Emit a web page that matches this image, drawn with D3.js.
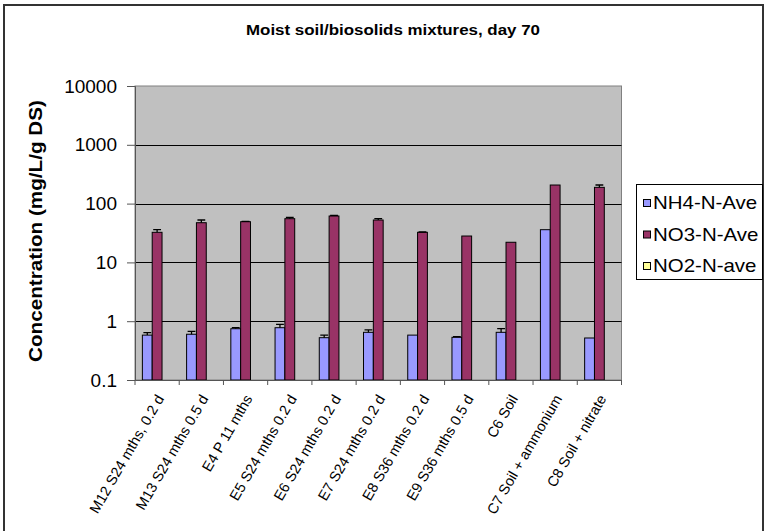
<!DOCTYPE html>
<html>
<head>
<meta charset="utf-8">
<script src="https://cdn.jsdelivr.net/npm/d3@7"></script>
<style>
  html, body { margin: 0; padding: 0; background: #fff; }
  svg { display: block; font-family: Arial, "Liberation Sans", sans-serif; }
</style>
</head>
<body>
<svg id="chart" width="768" height="531"></svg>
<script>
// Sample categories along the x axis
const categories = [
  "M12 S24 mths, 0.2 d",
  "M13 S24 mths 0.5 d",
  "E4 P 11 mths",
  "E5 S24 mths 0.2 d",
  "E6 S24 mths 0.2 d",
  "E7 S24 mths 0.2 d",
  "E8 S36 mths 0.2 d",
  "E9 S36 mths 0.5 d",
  "C6 Soil",
  "C7 Soil + ammonium",
  "C8 Soil + nitrate"
];

// Series names (legend order)
const seriesNames = ["NH4-N-Ave", "NO3-N-Ave", "NO2-N-ave"];

// Mean concentrations (mg/L/g DS)
const nh4 = [0.58, 0.60, 0.745, 0.775, 0.524, 0.647, 0.58, 0.532, 0.647, 36, 0.518];
const no3 = [32.5, 47.3, 49.2, 55.4, 61.5, 52.6, 32.5, 28.1, 22.0, 207, 189];
const no2 = [null, null, null, null, null, null, null, null, null, null, null];

// Upper error amounts
const nh4Err = [0.06, 0.07, 0.03, 0.11, 0.056, 0.063, 0, 0.014, 0.098, 0, 0];
const no3Err = [3.5, 5.3, 0.8, 3.1, 1.5, 2.8, 0.4, 0, 0, 0, 18];
const no2Err = [0, 0, 0, 0, 0, 0, 0, 0, 0, 0, 0];

// Log-axis ticks
const yTicks = [0.1, 1, 10, 100, 1000, 10000];
const yTickLabels = ["0.1", "1", "10", "100", "1000", "10000"];

const seriesValues = [nh4, no3, no2];
const seriesErrors = [nh4Err, no3Err, no2Err];
const colors = ["#9999FF", "#993366", "#FFFF99"];

const svg = d3.select("#chart");

// Outer chart frame
svg.append("rect")
  .attr("x", 4).attr("y", 5).attr("width", 759).attr("height", 600)
  .attr("fill", "#fff").attr("stroke", "#333").attr("stroke-width", 2);

const plot = { left: 135, right: 621.5, top: 86, bottom: 380 };

const x = d3.scaleBand().domain(categories).range([plot.left, plot.right]).paddingInner(0).paddingOuter(0);
const xs = d3.scaleBand().domain(seriesNames).range([0, x.bandwidth()]).paddingInner(0).paddingOuter(0.75);
const y = d3.scaleLog().domain([0.1, 10000]).range([plot.bottom, plot.top]);

// Plot area background
svg.append("rect")
  .attr("x", plot.left).attr("y", plot.top)
  .attr("width", plot.right - plot.left).attr("height", plot.bottom - plot.top)
  .attr("fill", "#C0C0C0").attr("stroke", "#808080").attr("stroke-width", 1);

// Gridlines
svg.append("g").selectAll("line")
  .data(yTicks.slice(1, -1))
  .join("line")
  .attr("x1", plot.left).attr("x2", plot.right)
  .attr("y1", d => Math.round(y(d)) + 0.5).attr("y2", d => Math.round(y(d)) + 0.5)
  .attr("stroke", "#000").attr("stroke-width", 1);

// Bars
const groups = svg.append("g").selectAll("g")
  .data(seriesNames.map((name, i) => ({ name, i })))
  .join("g");

groups.each(function (s) {
  const g = d3.select(this);
  const vals = seriesValues[s.i].map((v, k) => ({ v, e: seriesErrors[s.i][k], cat: categories[k] }))
    .filter(d => d.v != null && d.v > 0.1);
  g.selectAll("rect")
    .data(vals)
    .join("rect")
    .attr("x", d => x(d.cat) + xs(s.name))
    .attr("y", d => y(d.v))
    .attr("width", xs.bandwidth())
    .attr("height", d => y(0.1) - y(d.v))
    .attr("fill", colors[s.i])
    .attr("stroke", "#000").attr("stroke-width", 1);

  // Upper error bars
  const errs = vals.filter(d => d.e > 0);
  g.selectAll("path.err")
    .data(errs)
    .join("path")
    .attr("class", "err")
    .attr("d", d => {
      const cx = x(d.cat) + xs(s.name) + xs.bandwidth() / 2;
      const hw = xs.bandwidth() / 2 - 1;
      const yt = y(d.v + d.e), yb = y(d.v);
      return `M${cx},${yb}V${yt}M${cx - hw},${yt}H${cx + hw}`;
    })
    .attr("stroke", "#000").attr("stroke-width", 1.3).attr("fill", "none");
});

// Y axis
const yAxis = d3.axisLeft(y).tickValues(yTicks)
  .tickFormat((d, i) => yTickLabels[i]).tickSize(8).tickPadding(10);
const yg = svg.append("g").attr("transform", `translate(${plot.left},0)`).call(yAxis);
yg.select(".domain").attr("stroke", "#555");
yg.selectAll(".tick line").attr("stroke", "#555");
yg.selectAll(".tick text")
  .attr("font-size", 19).attr("fill", "#000")
  .attr("font-family", "Arial, 'Liberation Sans', sans-serif");

// X axis
const xAxis = d3.axisBottom(x).tickValues([]).tickSizeOuter(0);
const xg = svg.append("g").attr("transform", `translate(0,${plot.bottom})`).call(xAxis);
xg.select(".domain").attr("stroke", "#555");
const boundaries = categories.map(c => x(c)).concat([plot.right]);
xg.selectAll("line.sep")
  .data(boundaries)
  .join("line")
  .attr("class", "sep")
  .attr("x1", d => d).attr("x2", d => d)
  .attr("y1", 0).attr("y2", 5)
  .attr("stroke", "#555");

svg.append("g").selectAll("text")
  .data(categories)
  .join("text")
  .attr("transform", d => `translate(${x(d) + x.bandwidth() / 2 + 3},396) rotate(-60)`)
  .attr("text-anchor", "end")
  .attr("dy", "0.35em")
  .attr("font-size", 14.5)
  .text(d => d);

// Y axis title
svg.append("text")
  .attr("transform", "translate(42,231) rotate(-90)")
  .attr("text-anchor", "middle")
  .attr("font-size", 18).attr("font-weight", "bold")
  .attr("textLength", 262).attr("lengthAdjust", "spacingAndGlyphs")
  .text("Concentration (mg/L/g DS)");

// Chart title
svg.append("text")
  .attr("x", 393).attr("y", 35)
  .attr("text-anchor", "middle")
  .attr("font-size", 14).attr("font-weight", "bold")
  .attr("textLength", 294).attr("lengthAdjust", "spacingAndGlyphs")
  .text("Moist soil/biosolids mixtures, day 70");

// Legend
const lg = svg.append("g");
lg.append("rect")
  .attr("x", 636.5).attr("y", 184.5).attr("width", 126).attr("height", 95)
  .attr("fill", "#fff").attr("stroke", "#000").attr("stroke-width", 1);
const items = lg.selectAll("g.item")
  .data(seriesNames)
  .join("g")
  .attr("class", "item")
  .attr("transform", (d, i) => `translate(0,${203 + i * 31.5})`);
items.append("rect")
  .attr("x", 643.5).attr("y", -3.5).attr("width", 7).attr("height", 7)
  .attr("fill", (d, i) => colors[i]).attr("stroke", "#000").attr("stroke-width", 1);
items.append("text")
  .attr("transform", "translate(653,0) scale(1.17,1)")
  .attr("dy", "0.35em")
  .attr("font-size", 17.5)
  .text(d => d);
</script>
</body>
</html>
